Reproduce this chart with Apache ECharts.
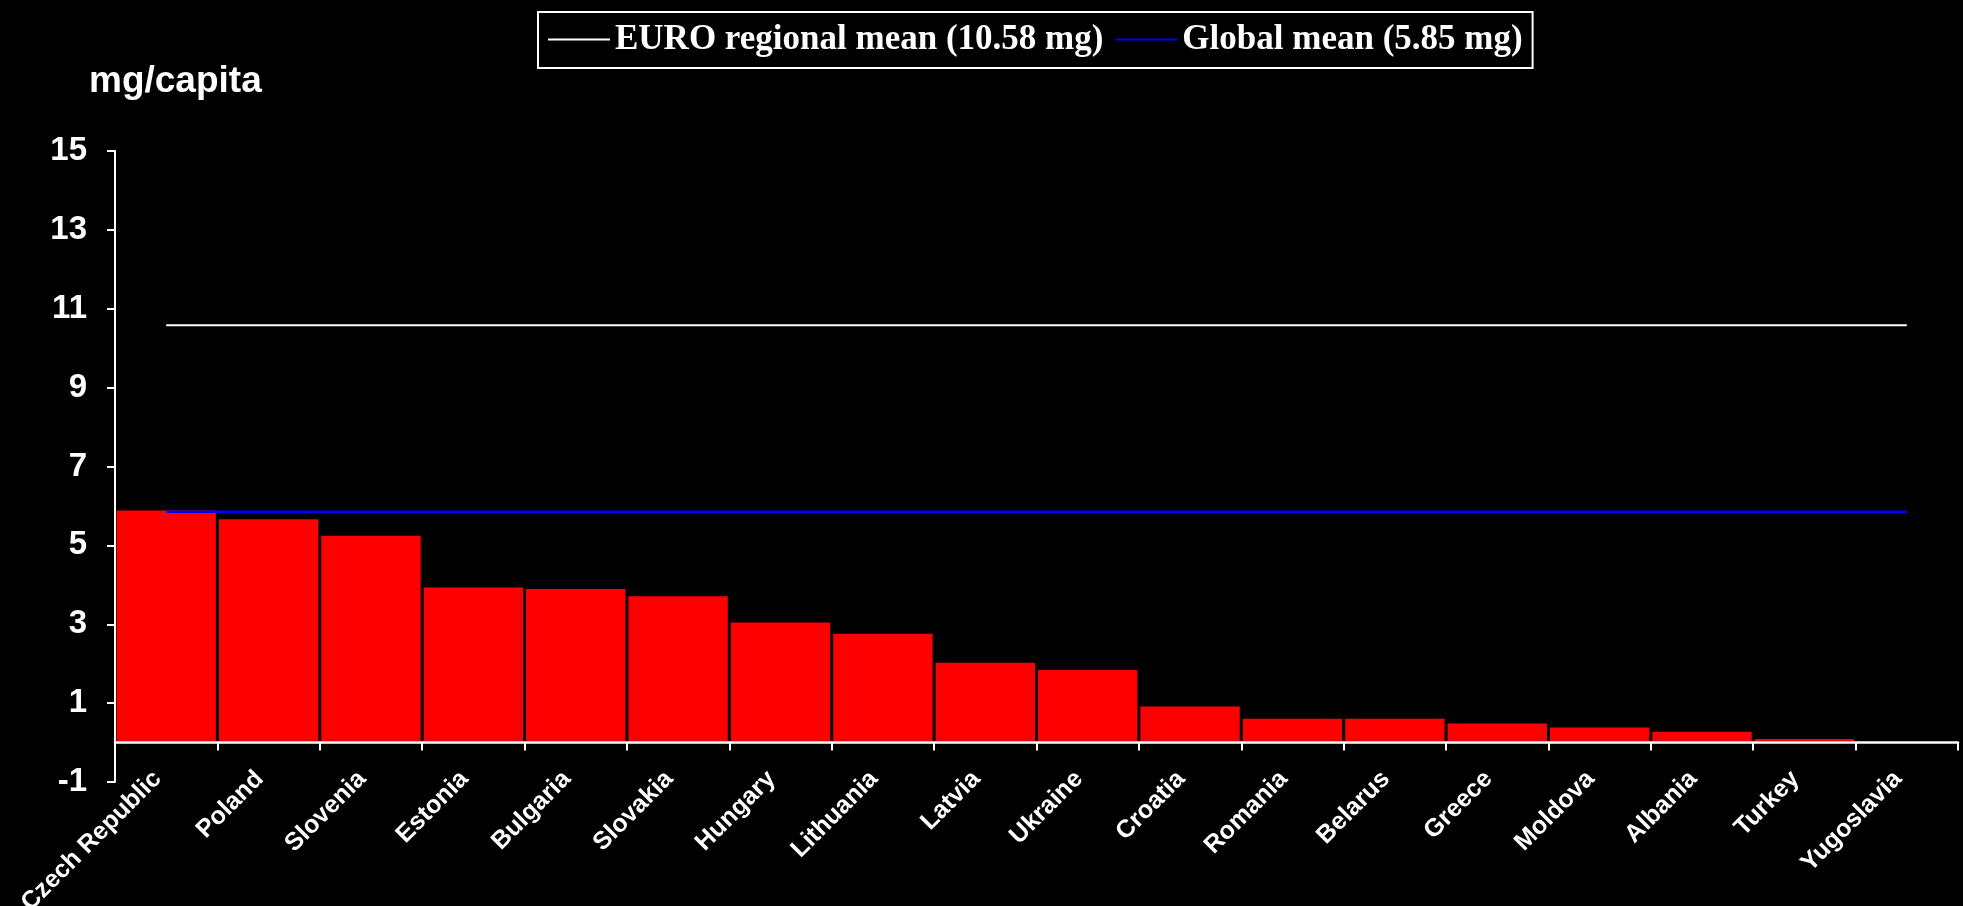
<!DOCTYPE html>
<html>
<head>
<meta charset="utf-8">
<script src="https://cdn.jsdelivr.net/npm/echarts@6/dist/echarts.min.js"></script>
<style>
html,body{margin:0;padding:0;background:#000;}
#chart{width:1963px;height:906px;}
</style>
</head>
<body>
<div id="chart"></div>
<script>
const countries = ['Czech Republic','Poland','Slovenia','Estonia','Bulgaria','Slovakia','Hungary','Lithuania','Latvia','Ukraine','Croatia','Romania','Belarus','Greece','Moldova','Albania','Turkey','Yugoslavia'];
const values = [5.92, 5.7, 5.28, 3.97, 3.93, 3.75, 3.08, 2.8, 2.06, 1.88, 0.95, 0.64, 0.64, 0.52, 0.42, 0.31, 0.13, 0];
const euroMean = [10.58,10.58,10.58,10.58,10.58,10.58,10.58,10.58,10.58,10.58,10.58,10.58,10.58,10.58,10.58,10.58,10.58,10.58];
const globalMean = [5.85,5.85,5.85,5.85,5.85,5.85,5.85,5.85,5.85,5.85,5.85,5.85,5.85,5.85,5.85,5.85,5.85,5.85];
const euroName = 'EURO regional mean (10.58 mg)';
const globalName = 'Global mean (5.85 mg)';
const yTitle = 'mg/capita';

const chart = echarts.init(document.getElementById('chart'));
chart.setOption({
  backgroundColor: '#000000',
  animation: false,
  title: {
    text: yTitle,
    left: 84,
    top: 58,
    textStyle: {color: '#fff', fontFamily: 'Liberation Sans, Arial', fontWeight: 'bold', fontSize: 37}
  },
  legend: {
    data: [euroName, globalName],
    left: 538,
    top: 12,
    padding: [10, 10, 11, 10],
    borderColor: '#fff',
    borderWidth: 2,
    backgroundColor: '#000',
    icon: 'rect',
    itemWidth: 62,
    itemHeight: 2,
    itemGap: 12,
    textStyle: {color: '#fff', fontFamily: 'Liberation Serif, Times New Roman', fontWeight: 'bold', fontSize: 35}
  },
  grid: {left: 115, right: 5, top: 151, bottom: 124, containLabel: false, outerBoundsMode: 'none'},
  xAxis: {
    type: 'category',
    data: countries,
    boundaryGap: true,
    z: 5,
    axisLine: {onZero: true, lineStyle: {color: '#fff', width: 2.5}},
    axisTick: {show: true, length: 8, lineStyle: {color: '#fff', width: 2}},
    axisLabel: {interval: 0, rotate: 45, verticalAlign: 'bottom', color: '#fff', fontFamily: 'Liberation Sans, Arial', fontWeight: 'bold', fontSize: 25, margin: 2}
  },
  yAxis: {
    type: 'value',
    min: -1,
    max: 15,
    interval: 2,
    z: 5,
    splitLine: {show: false},
    axisLine: {show: true, lineStyle: {color: '#fff', width: 2}},
    axisTick: {show: true, length: 8, lineStyle: {color: '#fff', width: 2}},
    axisLabel: {color: '#fff', fontFamily: 'Liberation Sans, Arial', fontWeight: 'bold', fontSize: 33, margin: 28}
  },
  series: [
    {
      type: 'bar',
      name: 'mg/capita',
      data: values,
      barCategoryGap: '0%',
      itemStyle: {color: '#ff0000', borderColor: '#000', borderWidth: 1.5},
      z: 2
    },
    {
      type: 'line',
      name: euroName,
      data: euroMean,
      symbol: 'none',
      lineStyle: {color: '#ffffff', width: 2},
      itemStyle: {color: '#ffffff'},
      z: 3
    },
    {
      type: 'line',
      name: globalName,
      data: globalMean,
      symbol: 'none',
      lineStyle: {color: '#0000ff', width: 2.5},
      itemStyle: {color: '#0000ff'},
      z: 3
    }
  ]
});
</script>
</body>
</html>
